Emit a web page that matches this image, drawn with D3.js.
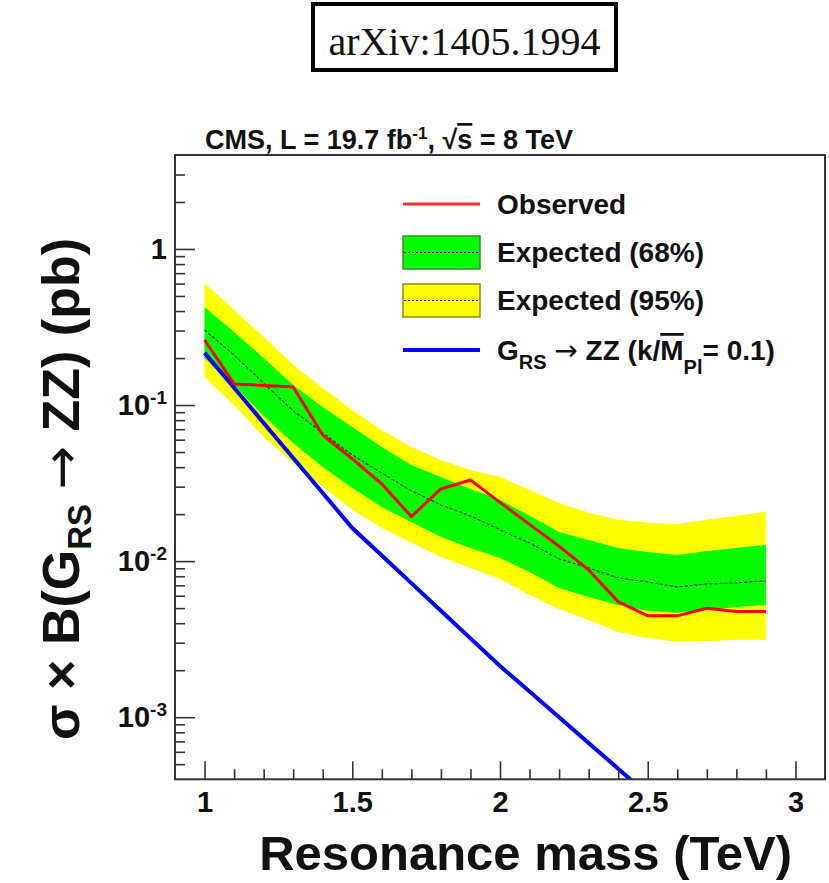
<!DOCTYPE html>
<html>
<head>
<meta charset="utf-8">
<script src="https://cdnjs.cloudflare.com/ajax/libs/d3/7.8.5/d3.min.js"></script>
<style>
body{margin:0;background:#fff;}
text{font-family:"Liberation Sans",Arial,Helvetica,sans-serif;font-weight:bold;fill:#111;}
.arrow{font-family:"DejaVu Sans",sans-serif;}
</style>
</head>
<body>
<svg id="chart" width="829" height="883"></svg>
<script>
// resonance masses (TeV)
var mass=[1.0,1.1,1.2,1.3,1.4,1.5,1.6,1.7,1.8,1.9,2.0,2.1,2.2,2.3,2.4,2.5,2.6,2.7,2.8,2.9];
// limits on sigma x B (pb)
var observed=[0.261,0.1365,0.1335,0.1306,0.0643,0.0452,0.0312,0.0193,0.0290,0.0331,0.0238,0.0172,0.01246,0.00878,0.00550,0.00446,0.00446,0.00499,0.00475,0.00475];
var expected=[0.303,0.209,0.1385,0.0917,0.0663,0.0479,0.0367,0.0282,0.0229,0.0195,0.01585,0.01308,0.01033,0.00904,0.00780,0.00736,0.00683,0.00714,0.00725,0.00747];
var exp68Lo=[0.200,0.1345,0.0852,0.0572,0.0401,0.0294,0.0222,0.01783,0.01429,0.01215,0.01048,0.00853,0.00673,0.00590,0.00524,0.00480,0.00466,0.00487,0.00509,0.00524];
var exp68Hi=[0.425,0.294,0.200,0.1345,0.0972,0.0724,0.0539,0.0413,0.0346,0.0290,0.0247,0.0195,0.01539,0.01367,0.01215,0.01145,0.01096,0.01162,0.01215,0.0127];
var exp95Lo=[0.1514,0.1001,0.0625,0.0426,0.0299,0.0213,0.0163,0.0131,0.01064,0.00904,0.00769,0.00607,0.00494,0.00420,0.00352,0.00322,0.00304,0.00308,0.00313,0.00313];
var exp95Hi=[0.606,0.407,0.273,0.181,0.1287,0.0930,0.0693,0.0539,0.0445,0.0384,0.0346,0.0286,0.0236,0.0204,0.0184,0.0176,0.0173,0.0184,0.0195,0.0207];
// RS graviton prediction, k/Mpl = 0.1
var theoryMass=[1.0,1.1,1.2,1.3,1.4,1.5,1.6,1.7,1.8,1.9,2.0,2.1,2.2,2.3,2.4,2.5];
var theory=[0.216,0.129,0.0768,0.0458,0.0273,0.0163,0.01086,0.00723,0.00481,0.00320,0.00213,0.00146,0.000998,0.000684,0.000468,0.000320];
// tick labels
var xTicks=[1,1.5,2,2.5,3];
var xTickLabels=["1","1.5","2","2.5","3"];
var yTicks=[1,0.1,0.01,0.001];
var yTickBase=["1","10","10","10"];
var yTickExp=["","-1","-2","-3"];

var svg=d3.select("#chart");
var plotL=175,plotT=155,plotR=825,plotB=779.3;

var x=d3.scaleLinear().domain([0.9,3.1]).range([plotL,plotR]);
var y=d3.scaleLog().domain([4e-4,4]).range([plotB,plotT]);

// arXiv tag on top
svg.append("rect").attr("x",313).attr("y",4).attr("width",303).attr("height",66)
    .attr("fill","#fff").attr("stroke","#000").attr("stroke-width",4);
svg.append("text").attr("x",464.5).attr("y",55).attr("text-anchor","middle")
    .style("font-family","'Liberation Serif','Times New Roman',serif").style("font-weight","normal")
    .attr("font-size",40).text("arXiv:1405.1994");

// CMS header
var head=svg.append("text").attr("x",205).attr("y",149).attr("font-size",27);
head.append("tspan").text("CMS, L = 19.7 fb");
head.append("tspan").attr("font-size",17).attr("dy",-10).text("-1");
head.append("tspan").attr("dy",10).text(", \u221A");
head.append("tspan").style("text-decoration","overline").text("s");
head.append("tspan").text(" = 8 TeV");

svg.append("clipPath").attr("id","clip").append("rect")
    .attr("x",plotL).attr("y",plotT).attr("width",plotR-plotL).attr("height",plotB-plotT);
var plot=svg.append("g").attr("clip-path","url(#clip)");

function band(lo,hi){
    return d3.area()
        .x(function(d,i){return x(mass[i]);})
        .y0(function(d,i){return y(lo[i]);})
        .y1(function(d,i){return y(hi[i]);})(mass);
}
function curve(xs,ys){
    return d3.line()
        .x(function(d,i){return x(xs[i]);})
        .y(function(d,i){return y(ys[i]);})(xs);
}

plot.append("path").attr("d",band(exp95Lo,exp95Hi)).attr("fill","#ffff00");
plot.append("path").attr("d",band(exp68Lo,exp68Hi)).attr("fill","#00ff00");
plot.append("path").attr("d",curve(mass,expected)).attr("fill","none")
    .attr("stroke","#222").attr("stroke-width",1.2).attr("stroke-dasharray","3,2");
plot.append("path").attr("d",curve(theoryMass,theory)).attr("fill","none")
    .attr("stroke","#0000ff").attr("stroke-width",4);
plot.append("path").attr("d",curve(mass,observed)).attr("fill","none")
    .attr("stroke","#ff0000").attr("stroke-width",3).attr("stroke-linejoin","round");

// axes, ticks drawn inward
var xMinor=d3.range(11,30).filter(function(i){return i%5!=0;}).map(function(i){return i/10;});
var yMinor=[];
[-4,-3,-2,-1,0].forEach(function(k){
    for(var m=2;m<=9;m++){
        var v=m*Math.pow(10,k);
        if(v>4.01e-4&&v<3.99) yMinor.push(v);
    }
});

function styleAxis(g){
    g.select(".domain").remove();
    g.selectAll(".tick line").attr("stroke","#333").attr("stroke-width",1.6);
}

svg.append("g").attr("transform","translate(0,"+plotB+")")
    .call(d3.axisBottom(x).tickValues(xMinor).tickSize(-10).tickFormat(""))
    .call(styleAxis);
var xAxis=svg.append("g").attr("transform","translate(0,"+plotB+")")
    .call(d3.axisBottom(x).tickValues(xTicks).tickSize(-18).tickPadding(12)
        .tickFormat(function(d,i){return xTickLabels[i];}))
    .call(styleAxis);
xAxis.selectAll("text").attr("font-size",29).attr("fill","#111");

svg.append("g").attr("transform","translate("+plotL+",0)")
    .call(d3.axisLeft(y).tickValues(yMinor).tickSize(-10).tickFormat(""))
    .call(styleAxis);
svg.append("g").attr("transform","translate("+plotL+",0)")
    .call(d3.axisLeft(y).tickValues(yTicks).tickSize(-20).tickFormat(""))
    .call(styleAxis);

var yLab=svg.append("g").selectAll("text").data(yTicks).enter().append("text")
    .attr("x",167).attr("y",function(d){return y(d)+10;})
    .attr("text-anchor","end").attr("font-size",29);
yLab.append("tspan").text(function(d,i){return yTickBase[i];});
yLab.append("tspan").attr("font-size",19).attr("dy",-11).text(function(d,i){return yTickExp[i];});

// frame
svg.append("rect").attr("x",plotL).attr("y",plotT).attr("width",plotR-plotL).attr("height",plotB-plotT)
    .attr("fill","none").attr("stroke","#333").attr("stroke-width",2);

// axis titles
svg.append("text").attr("x",792).attr("y",870).attr("text-anchor","end")
    .attr("font-size",49).text("Resonance mass (TeV)");

var yt=svg.append("text").attr("transform","translate(79,238) rotate(-90)")
    .attr("text-anchor","end").attr("font-size",52);
yt.append("tspan").text("\u03C3 \u00D7 B(G");
yt.append("tspan").attr("font-size",33).attr("dy",12).text("RS");
yt.append("tspan").attr("dy",-12).text(" ");
yt.append("tspan").attr("class","arrow").style("font-weight","normal").text("\u2192");
yt.append("tspan").text(" ZZ) (pb)");

// legend
var lg=svg.append("g");
lg.append("line").attr("x1",403).attr("x2",480).attr("y1",204).attr("y2",204)
    .attr("stroke","#ff3030").attr("stroke-width",3);
lg.append("text").attr("x",497).attr("y",214).attr("font-size",28).text("Observed");

[{y0:236,fill:"#00ff00",edge:"#3d8a2a",label:"Expected (68%)"},
 {y0:284,fill:"#ffff00",edge:"#8a8a2a",label:"Expected (95%)"}].forEach(function(e){
    lg.append("rect").attr("x",403).attr("y",e.y0).attr("width",77).attr("height",33)
        .attr("fill",e.fill).attr("stroke",e.edge).attr("stroke-width",1.5);
    lg.append("line").attr("x1",404).attr("x2",479).attr("y1",e.y0+16.5).attr("y2",e.y0+16.5)
        .attr("stroke","#333").attr("stroke-width",1).attr("stroke-dasharray","2,2");
    lg.append("text").attr("x",497).attr("y",e.y0+26).attr("font-size",28).text(e.label);
});

lg.append("line").attr("x1",403).attr("x2",480).attr("y1",350).attr("y2",350)
    .attr("stroke","#0000ff").attr("stroke-width",4);
var gt=lg.append("text").attr("x",497).attr("y",360).attr("font-size",28);
gt.append("tspan").text("G");
gt.append("tspan").attr("font-size",20).attr("dy",9).text("RS");
gt.append("tspan").attr("dy",-9).text(" ");
gt.append("tspan").attr("class","arrow").style("font-weight","normal").text("\u2192");
gt.append("tspan").text(" ZZ (k/");
gt.append("tspan").style("text-decoration","overline").text("M");
gt.append("tspan").attr("font-size",20).attr("dy",14).text("Pl");
gt.append("tspan").attr("dy",-14).text("= 0.1)");
</script>
</body>
</html>
